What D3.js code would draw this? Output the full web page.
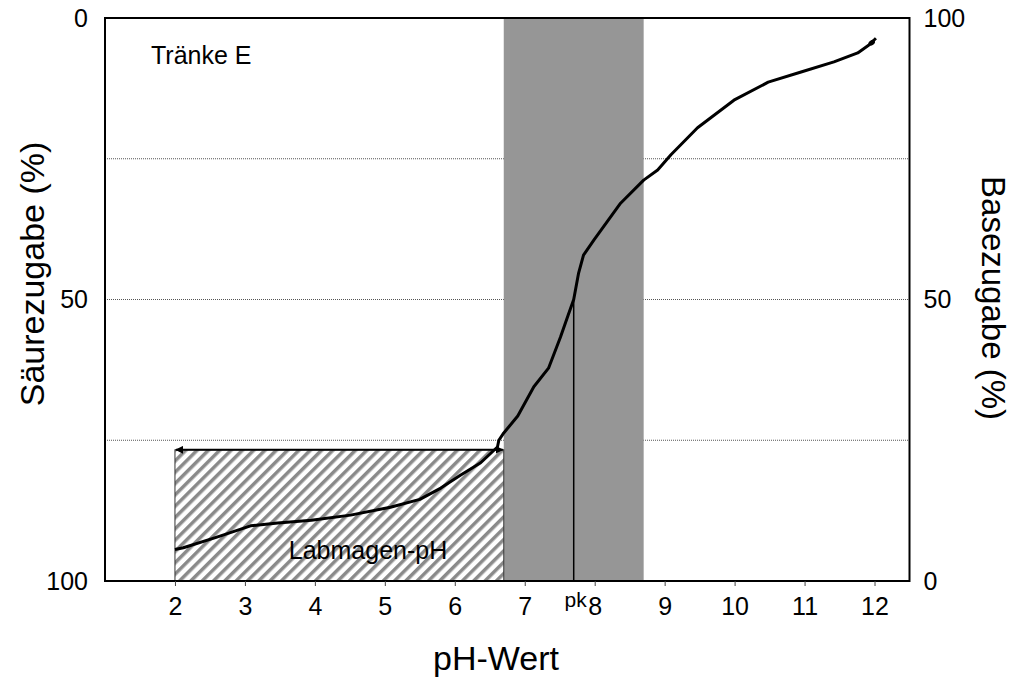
<!DOCTYPE html>
<html><head><meta charset="utf-8">
<script src="https://cdn.jsdelivr.net/npm/d3@7"></script>
<style>body{margin:0;background:#fff;} text{font-family:"Liberation Sans",Arial,sans-serif;}</style>
</head><body>
<svg id="c" width="1013" height="679"></svg>
<script>
// ---- data ----
const phValues   = [2.0, 2.12, 2.6, 3.08, 3.47, 3.95, 4.51, 5.08, 5.5, 5.80, 6.08, 6.37, 6.61, 6.63, 6.70, 6.90, 7.13, 7.34, 7.51, 7.62, 7.70, 7.77, 7.84, 7.99, 8.37, 8.70, 8.90, 9.09, 9.47, 9.99, 10.48, 10.95, 11.42, 11.76, 11.92, 12.02];
const baseValues = [5.6, 5.9, 7.8, 9.8, 10.3, 10.8, 11.7, 13.1, 14.5, 16.5, 18.8, 21.0, 23.8, 25.0, 26.3, 29.3, 34.5, 37.8, 43.3, 47.2, 50.0, 54.7, 57.9, 60.6, 67.1, 71.2, 73.0, 75.7, 80.5, 85.4, 88.6, 90.4, 92.2, 93.8, 95.2, 96.4];
const xTicks = [2, 3, 4, 5, 6, 7, 8, 9, 10, 11, 12];
const leftTicks = [0, 50, 100];
const rightTicks = [100, 50, 0];
const gridValues = [25, 50, 75];
const pk = 7.7;
const bandRange = [6.7, 8.7];
const labmagenRange = [2, 6.7];
const labmagenTop = 23.3;
const labels = {title: "Tränke E", box: "Labmagen-pH", pk: "pk", x: "pH-Wert", yLeft: "Säurezugabe (%)", yRight: "Basezugabe (%)"};

// ---- layout ----
const svg = d3.select("#c");
const L = 105, R = 909.5, T = 18, B = 581;
const x = d3.scaleLinear().domain([1, 12.5]).range([L, R]);
const yR = d3.scaleLinear().domain([0, 100]).range([B, T]);
const yL = d3.scaleLinear().domain([0, 100]).range([T, B]);
const FONT = "Liberation Sans, Arial, sans-serif";

const defs = svg.append("defs");
const pat = defs.append("pattern").attr("id", "hatch").attr("patternUnits", "userSpaceOnUse")
  .attr("width", 8).attr("height", 8).attr("patternTransform", "rotate(45)");
pat.append("rect").attr("width", 8).attr("height", 8).attr("fill", "#fff");
pat.append("line").attr("x1", 0).attr("y1", 0).attr("x2", 0).attr("y2", 8)
  .attr("stroke", "#8a8a8a").attr("stroke-width", 7);
defs.append("marker").attr("id", "arr").attr("viewBox", "0 0 10 10")
  .attr("refX", 9).attr("refY", 5).attr("markerWidth", 4).attr("markerHeight", 4)
  .attr("orient", "auto-start-reverse").append("path").attr("d", "M0,0L10,5L0,10Z").attr("fill", "#000");

// gridlines
svg.append("g").selectAll("line").data(gridValues).join("line")
  .attr("x1", L).attr("x2", R).attr("y1", d => yR(d)).attr("y2", d => yR(d))
  .attr("stroke", "#555").attr("stroke-width", 1).attr("stroke-dasharray", "1,1");

// shaded band
svg.append("rect").attr("x", x(bandRange[0])).attr("y", T)
  .attr("width", x(bandRange[1]) - x(bandRange[0])).attr("height", B - T).attr("fill", "#969696");

// hatched box
svg.append("rect").attr("x", x(labmagenRange[0])).attr("y", yR(labmagenTop))
  .attr("width", x(labmagenRange[1]) - x(labmagenRange[0])).attr("height", B - yR(labmagenTop))
  .attr("fill", "url(#hatch)").attr("stroke", "#333").attr("stroke-width", 1);
svg.append("line").attr("x1", x(labmagenRange[0]) + 1).attr("x2", x(labmagenRange[1]) - 1)
  .attr("y1", yR(labmagenTop)).attr("y2", yR(labmagenTop))
  .attr("stroke", "#000").attr("stroke-width", 2)
  .attr("marker-start", "url(#arr)").attr("marker-end", "url(#arr)");
svg.append("text").attr("x", 368).attr("y", 559)
  .attr("text-anchor", "middle").attr("font-size", 25).attr("fill", "#000").text(labels.box);

// pk line
svg.append("line").attr("x1", x(pk)).attr("x2", x(pk)).attr("y1", yR(50)).attr("y2", B)
  .attr("stroke", "#000").attr("stroke-width", 1.5);

// curve
const pts = phValues.map((p, i) => [p, baseValues[i]]);
svg.append("path").datum(pts).attr("fill", "none").attr("stroke", "#000").attr("stroke-width", 3)
  .attr("stroke-linejoin", "round")
  .attr("d", d3.line().x(d => x(d[0])).y(d => yR(d[1])));
svg.append("ellipse").attr("cx", x(11.96)).attr("cy", yR(95.6)).attr("rx", 3.5).attr("ry", 2.5)
  .attr("transform", `rotate(-35 ${x(11.96)} ${yR(95.6)})`).attr("fill", "#000");

// frame
svg.append("rect").attr("x", L).attr("y", T).attr("width", R - L).attr("height", B - T)
  .attr("fill", "none").attr("stroke", "#000").attr("stroke-width", 2);

// x axis
const xa = svg.append("g").attr("transform", `translate(0,${B})`)
  .call(d3.axisBottom(x).tickValues(xTicks).tickSize(5).tickPadding(11).tickFormat(d3.format("d")));
xa.select(".domain").remove();
xa.selectAll(".tick line").attr("stroke", "#444");
xa.selectAll("text").attr("font-size", 25).attr("fill", "#000").attr("font-family", FONT);

// left axis
const la = svg.append("g").attr("transform", `translate(${L},0)`)
  .call(d3.axisLeft(yL).tickValues(leftTicks).tickSize(0).tickPadding(17));
la.select(".domain").remove();
la.selectAll("text").attr("font-size", 25).attr("fill", "#000").attr("font-family", FONT);

// right axis
const ra = svg.append("g").attr("transform", `translate(${R},0)`)
  .call(d3.axisRight(yR).tickValues(rightTicks).tickSize(0).tickPadding(14));
ra.select(".domain").remove();
ra.selectAll("text").attr("font-size", 25).attr("fill", "#000").attr("font-family", FONT);

// pk label
svg.append("text").attr("x", x(pk) + 2).attr("y", 607).attr("text-anchor", "middle")
  .attr("font-size", 21).text(labels.pk);

// in-plot title
svg.append("text").attr("x", 151).attr("y", 64).attr("font-size", 25).text(labels.title);

// axis titles
svg.append("text").attr("x", 496).attr("y", 670).attr("text-anchor", "middle")
  .attr("font-size", 34).text(labels.x);
svg.append("text").attr("transform", "translate(44,274) rotate(-90)").attr("text-anchor", "middle")
  .attr("font-size", 34).text(labels.yLeft);
svg.append("text").attr("transform", "translate(982,298) rotate(90)").attr("text-anchor", "middle")
  .attr("font-size", 33).text(labels.yRight);
</script>
</body></html>
